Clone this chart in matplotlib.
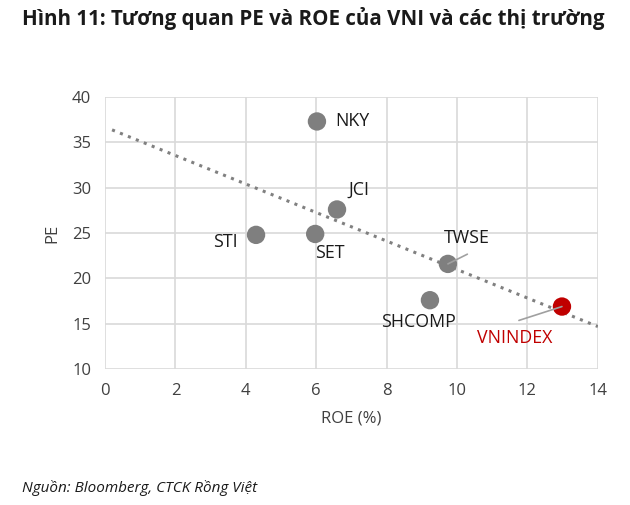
import matplotlib
matplotlib.use("Agg")
import matplotlib.pyplot as plt
import numpy as np

plt.rcParams['font.family'] = ['Open Sans', 'DejaVu Sans']

# data
markets = ["NKY", "JCI", "STI", "SET", "TWSE", "SHCOMP", "VNINDEX"]
roe = [6.02, 6.59, 4.29, 5.97, 9.74, 9.23, 12.98]
pe = [37.3, 27.6, 24.8, 24.9, 21.6, 17.6, 16.9]
x_ticks = [0, 2, 4, 6, 8, 10, 12, 14]
y_ticks = [10, 15, 20, 25, 30, 35, 40]

fig = plt.figure(figsize=(6.3, 5.05), dpi=100)
ax = fig.add_axes([0.1667, 0.269, 0.7823, 0.539])

# linear trendline
slope, intercept = np.polyfit(roe, pe, 1)
xs = np.array([0.2, 14])
ax.plot(xs, slope * xs + intercept, color="#808080", linestyle=(0, (1, 1.8)),
        linewidth=2.2, zorder=2)

colors = ["#7f7f7f"] * 6 + ["#c00000"]
ax.scatter(roe, pe, s=175, c=colors, zorder=3, linewidths=0)

# point labels (offsets in points)
offsets = {
    "NKY": (13, 0, "left", "center"),
    "JCI": (8, 14, "left", "center"),
    "STI": (-13, -5, "right", "center"),
    "SET": (0, -14, "left", "center"),
    "TWSE": (-3, 19, "left", "center"),
    "SHCOMP": (-35, -16, "left", "center"),
    "VNINDEX": (-61, -23, "left", "center"),
}
for name, x, y in zip(markets, roe, pe):
    dx, dy, ha, va = offsets[name]
    col = "#c00000" if name == "VNINDEX" else "#1a1a1a"
    ax.annotate(name, (x, y), xytext=(dx, dy), textcoords="offset points",
                ha=ha, va=va, fontsize=12.8, color=col)

# leader lines
ax.annotate("", (roe[4], pe[4]), xytext=(14, 7), textcoords="offset points",
            arrowprops=dict(arrowstyle="-", color="#a0a0a0", lw=1.2,
                            shrinkA=0, shrinkB=0))
ax.annotate("", (roe[6], pe[6]), xytext=(-31, -10), textcoords="offset points",
            arrowprops=dict(arrowstyle="-", color="#a0a0a0", lw=1.2,
                            shrinkA=0, shrinkB=0))

ax.set_xlim(0, 14)
ax.set_ylim(10, 40)
ax.set_xticks(x_ticks)
ax.set_yticks(y_ticks)
ax.grid(True, color="#d9d9d9", linewidth=1.2)
ax.set_axisbelow(True)
for sp in ax.spines.values():
    sp.set_visible(False)
ax.tick_params(length=0, labelsize=12, colors="#404040", pad=10)
ax.set_xlabel("ROE (%)", fontsize=12, color="#404040", labelpad=8)
ax.set_ylabel("PE", fontsize=12, color="#404040", labelpad=8)

fig.text(0.035, 0.963, "Hình 11: Tương quan PE và ROE của VNI và các thị trường",
         fontsize=14.8, fontweight="bold", color="#1a1a1a", va="center")
fig.text(0.035, 0.033, "Nguồn: Bloomberg, CTCK Rồng Việt", fontsize=11,
         style="italic", color="#1a1a1a", va="center")

fig.savefig("out.png", dpi=100)
